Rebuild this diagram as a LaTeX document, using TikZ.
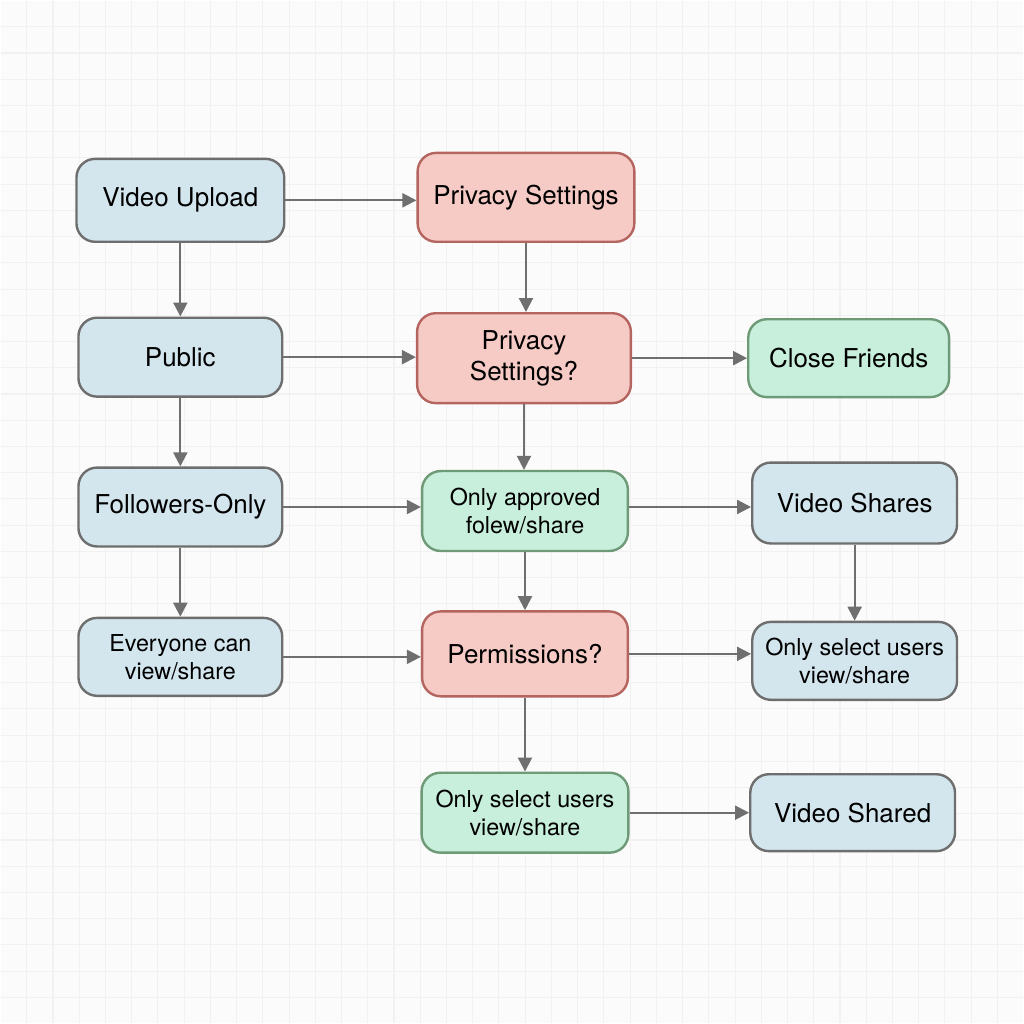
\documentclass[tikz,border=0pt]{standalone}
\usepackage{fontspec}
\setmainfont{TeX Gyre Heros}
\usetikzlibrary{arrows.meta}
\definecolor{bg}{HTML}{FBFBFB}
\definecolor{gridc}{HTML}{F1F1F1}
\definecolor{bluef}{HTML}{D3E6EE}
\definecolor{blued}{HTML}{6E6E6E}
\definecolor{redf}{HTML}{F6CBC6}
\definecolor{redd}{HTML}{B5655F}
\definecolor{greenf}{HTML}{C8EEDC}
\definecolor{greend}{HTML}{6F9A78}
\definecolor{arr}{HTML}{6F6F6F}
\tikzset{
  box/.style={rounded corners=14pt, line width=1.8pt, align=center, inner sep=0pt, font=\fontsize{19.5}{23.5}\selectfont},
  bluebox/.style={box, fill=bluef, draw=blued},
  redbox/.style={box, fill=redf, draw=redd},
  greenbox/.style={box, fill=greenf, draw=greend},
  small/.style={font=\fontsize{17.5}{21}\selectfont},
  conn/.style={draw=arr, line width=1.6pt, -{Triangle[length=10.5pt,width=10.5pt]}},
  sz/.style 2 args={minimum width=#1*0.75pt, minimum height=#2*0.75pt}
}
\begin{document}
\begin{tikzpicture}[x=0.75pt,y=-0.75pt]
\fill[bg] (0,0) rectangle (1024,1024);
\foreach \i in {1,...,38} {
  \draw[gridc, line width=0.8pt] ({\i*26.26},0) -- ({\i*26.26},1024);
  \draw[gridc, line width=0.8pt] (0,{\i*26.26}) -- (1024,{\i*26.26});
}
\useasboundingbox (0,0) rectangle (1024,1024);
% column 1
\node[bluebox, sz={208}{83}] (vu) at (180,200) {Video Upload};
\node[bluebox, sz={204}{79}] (pub) at (180,357) {Public};
\node[bluebox, sz={204}{79}] (fo) at (180,507) {Followers-Only};
\node[bluebox, small, sz={204}{78}] (ev) at (180,657) {Everyone can\\view/share};
% column 2
\node[redbox, sz={217}{89}] (ps) at (526,197) {Privacy Settings};
\node[redbox, sz={214}{90}] (ps2) at (524,358) {Privacy\\Settings?};
\node[greenbox, small, sz={206}{80}] (oa) at (525,511) {Only approved\\folew/share};
\node[redbox, sz={206}{85}] (perm) at (525,654) {Permissions?};
\node[greenbox, small, sz={207}{80}] (os2) at (525,813) {Only select users\\view/share};
% column 3
\node[greenbox, sz={201}{78}] (cf) at (849,358) {Close Friends};
\node[bluebox, sz={205}{81}] (vs) at (855,503) {Video Shares};
\node[bluebox, small, sz={205}{78}] (os3) at (855,661) {Only select users\\view/share};
\node[bluebox, sz={205}{77}] (vsh) at (853,813) {Video Shared};
% horizontal connectors
\draw[conn] (vu.east) -- (vu.east -| ps.west);
\draw[conn] (pub.east) -- (pub.east -| ps2.west);
\draw[conn] (fo.east) -- (fo.east -| oa.west);
\draw[conn] (ev.east) -- (ev.east -| perm.west);
\draw[conn] (ps2.east) -- (ps2.east -| cf.west);
\draw[conn] ([yshift=3pt]oa.east) -- ([yshift=3pt]oa.east -| vs.west);
\draw[conn] (perm.east) -- (perm.east -| os3.west);
\draw[conn] (os2.east) -- (os2.east -| vsh.west);
% vertical connectors
\draw[conn] (vu.south) -- (vu.south |- pub.north);
\draw[conn] (pub.south) -- (pub.south |- fo.north);
\draw[conn] (fo.south) -- (fo.south |- ev.north);
\draw[conn] (ps.south) -- (ps.south |- ps2.north);
\draw[conn] (ps2.south) -- (ps2.south |- oa.north);
\draw[conn] (oa.south) -- (oa.south |- perm.north);
\draw[conn] (perm.south) -- (perm.south |- os2.north);
\draw[conn] (vs.south) -- (vs.south |- os3.north);
\end{tikzpicture}
\end{document}
